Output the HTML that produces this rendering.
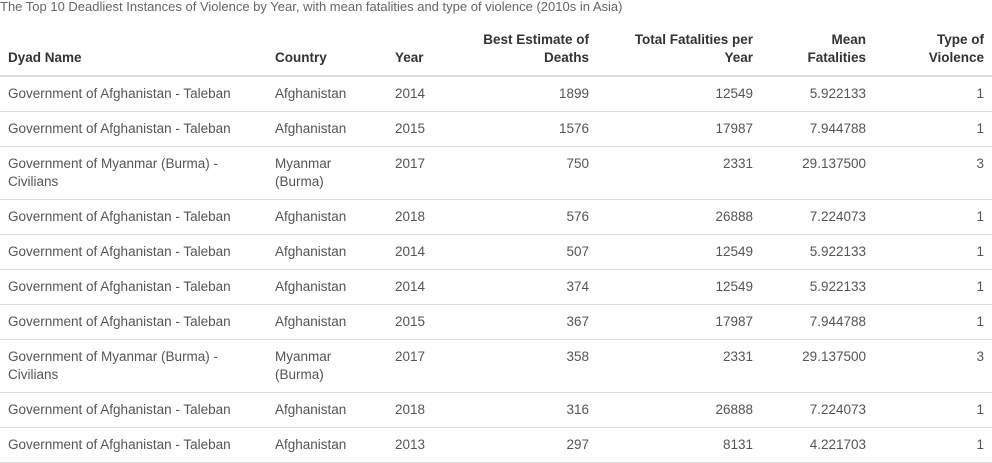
<!DOCTYPE html>
<html><head><meta charset="utf-8">
<style>
html,body{margin:0;padding:0;background:#fff;width:992px;height:452px;overflow:hidden;}
body{font-family:"Liberation Sans",sans-serif;font-size:13.5px;color:#555;}
.cap{position:absolute;left:0;top:-2px;font-size:13px;color:#666;line-height:18px;white-space:nowrap;}
table{position:absolute;left:0;top:23px;border-collapse:collapse;table-layout:fixed;width:992px;}
th,td{padding:8px;line-height:18px;white-space:nowrap;}
th{color:#333;font-weight:bold;vertical-align:bottom;border-bottom:2px solid #ddd;}
td{vertical-align:top;border-bottom:1px solid #ddd;}
.l{text-align:left}.r{text-align:right}
</style></head><body>
<div class="cap">The Top 10 Deadliest Instances of Violence by Year, with mean fatalities and type of violence (2010s in Asia)</div>
<table>
<colgroup><col style="width:267px"><col style="width:120px"><col style="width:73px"><col style="width:137px"><col style="width:164px"><col style="width:113px"><col style="width:118px"></colgroup>
<thead><tr>
<th class="l">Dyad Name</th>
<th class="l">Country</th>
<th class="l">Year</th>
<th class="r">Best Estimate of<br>Deaths</th>
<th class="r">Total Fatalities per<br>Year</th>
<th class="r">Mean<br>Fatalities</th>
<th class="r">Type of<br>Violence</th>
</tr></thead>
<tbody id="tb"></tbody>
</table>
<script>
const dyads=["Government of Afghanistan - Taleban","Government of Afghanistan - Taleban","Government of Myanmar (Burma) -<br>Civilians","Government of Afghanistan - Taleban","Government of Afghanistan - Taleban","Government of Afghanistan - Taleban","Government of Afghanistan - Taleban","Government of Myanmar (Burma) -<br>Civilians","Government of Afghanistan - Taleban","Government of Afghanistan - Taleban"];
const countries=["Afghanistan","Afghanistan","Myanmar<br>(Burma)","Afghanistan","Afghanistan","Afghanistan","Afghanistan","Myanmar<br>(Burma)","Afghanistan","Afghanistan"];
const years=[2014,2015,2017,2018,2014,2014,2015,2017,2018,2013];
const bestEstimates=[1899,1576,750,576,507,374,367,358,316,297];
const totalFatalities=[12549,17987,2331,26888,12549,12549,17987,2331,26888,8131];
const meanFatalities=["5.922133","7.944788","29.137500","7.224073","5.922133","5.922133","7.944788","29.137500","7.224073","4.221703"];
const violenceTypes=[1,1,3,1,1,1,1,3,1,1];
const tb=document.getElementById('tb');
for(let i=0;i<dyads.length;i++){
  const tr=document.createElement('tr');
  
  
  const cells=[[dyads[i],'l','dyad-cell'],[countries[i],'l','country-cell'],[years[i],'l','year-cell'],[bestEstimates[i],'r','best-estimate-cell'],[totalFatalities[i],'r','total-fatalities-cell'],[meanFatalities[i],'r','mean-fatalities-cell'],[violenceTypes[i],'r','violence-type-cell']];
  for(const c of cells){
    const td=document.createElement('td');
    td.className=c[1];
    td.innerHTML=c[0];
    
    
    tr.appendChild(td);
  }
  tb.appendChild(tr);
}
</script>
</body></html>
